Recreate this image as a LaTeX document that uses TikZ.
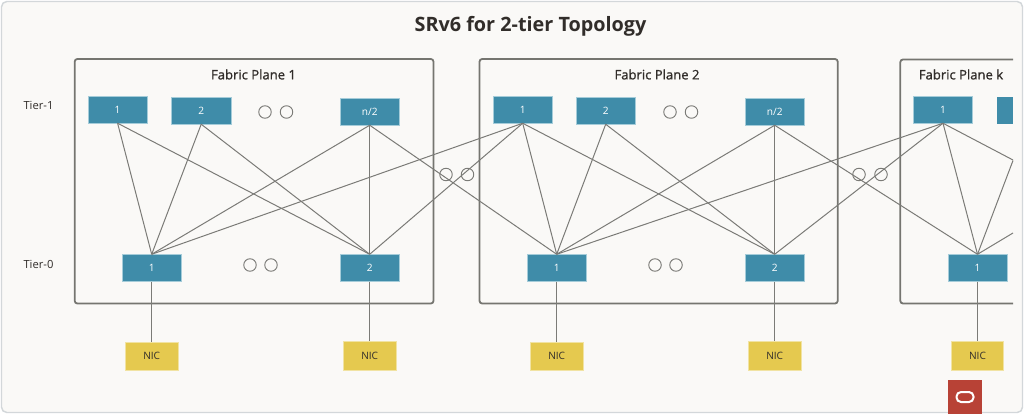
\documentclass[tikz,border=0pt]{standalone}
\usepackage{fontspec}
\setmainfont{Open Sans}
\newfontfamily\semifont[RawFeature={embolden=1.2}]{Open Sans}
\definecolor{cardbg}{HTML}{FAF9F7}
\definecolor{cardline}{HTML}{D3D7DA}
\definecolor{teal}{HTML}{3F8CA9}
\definecolor{tealedge}{HTML}{A5CCD9}
\definecolor{nicy}{HTML}{E5C94F}
\definecolor{nicedge}{HTML}{F1E3A3}
\definecolor{linkc}{HTML}{7B7B77}
\definecolor{framec}{HTML}{757570}
\definecolor{inkc}{HTML}{312D2A}
\definecolor{orared}{HTML}{B84236}
\tikzset{
  x=0.75pt,y=-0.75pt,
  sw/.style={rectangle,fill=teal,draw=tealedge,line width=0.4pt,minimum width=44.6pt,minimum height=20.2pt,inner sep=0pt,text=white,font=\fontsize{7.6}{9}\selectfont},
  nic/.style={rectangle,fill=nicy,draw=nicedge,line width=0.4pt,minimum width=39.2pt,minimum height=21.6pt,inner sep=0pt,text=inkc,font=\fontsize{7.6}{9}\selectfont},
  dot/.style={circle,draw=linkc,line width=0.7pt,minimum size=9.4pt,inner sep=0pt},
  plane/.style={draw=framec,line width=1.35pt,rounded corners=2pt},
  link/.style={draw=linkc,line width=0.75pt},
  ptitle/.style={text=inkc,font=\semifont\fontsize{9.8}{12}\selectfont,inner sep=0pt},
  tier/.style={text=inkc,font=\fontsize{8.4}{10}\selectfont,inner sep=0pt},
}
\begin{document}
\begin{tikzpicture}
\useasboundingbox (0,0) rectangle (1024,414);
\fill[white] (0,0) rectangle (1024,414);
\draw[cardline,fill=cardbg,line width=1.1pt,rounded corners=4pt] (1.5,1.5) rectangle (1022.5,412.5);
\node[text=inkc,font=\bfseries\fontsize{14.85}{18}\selectfont,inner sep=0pt] (title) at (530.5,26.2) {SRv6 for 2-tier Topology};
% frames
\draw[plane] (74.7,59) rectangle (433.5,303.5);
\draw[plane] (479.5,59) rectangle (837.7,303.5);
\draw[plane] (1013,59.5) -- (900.3,59.5) -- (900.3,303.5) -- (1013,303.5);
\node[ptitle] (p1) at (253.5,74.5) {Fabric Plane 1};
\node[ptitle] (p2) at (657,74.5) {Fabric Plane 2};
\node[ptitle] (pk) at (961,74.5) {Fabric Plane k};
\node[tier] (t1) at (38.5,105.5) {Tier-1};
\node[tier] (t0) at (38.5,264) {Tier-0};
% plane 1
\node[sw] (a1) at (117.6,109.5) {1};
\node[sw] (a2) at (201.2,110.5) {2};
\node[sw] (an) at (369.7,111.5) {n/2};
\node[sw] (b1) at (151.7,268) {1};
\node[sw] (b2) at (369.7,268) {2};
\node[nic] (n1) at (151.7,356.3) {NIC};
\node[nic] (n2) at (369.7,355.5) {NIC};
% plane 2
\node[sw] (c1) at (522.7,109.5) {1};
\node[sw] (c2) at (605.7,110.5) {2};
\node[sw] (cn) at (774.7,111.5) {n/2};
\node[sw] (d1) at (556.7,268) {1};
\node[sw] (d2) at (774.7,268) {2};
\node[nic] (n3) at (556.7,356.3) {NIC};
\node[nic] (n4) at (774.7,355.5) {NIC};
% plane k
\node[sw] (e1) at (943,109.5) {1};
\fill[teal] (997,97) rectangle (1013,124);
\node[sw] (f1) at (977.5,268) {1};
\node[nic] (n5) at (977.5,355.5) {NIC};
\coordinate (ka) at (1013,160);
\coordinate (kb) at (1013,160.5);
\coordinate (kc) at (1013,233);
% dots
\foreach \n/\x/\y in {q1/265/112,q2/286.5/112,q3/250/265,q4/271/265,q5/446/174.5,q6/467.5/174.5,q7/670/112,q8/691.5/112,q9/655/265,q10/676/265,q11/859/174.5,q12/881/174.5}
  \node[dot] (\n) at (\x,\y) {};
% links
\foreach \u in {b1,b2}
  \foreach \v in {a1,a2,an,c1}
    \draw[link] (\u.north) -- (\v.south);
\foreach \u in {d1,d2}
  \foreach \v in {c1,c2,cn,e1}
    \draw[link] (\u.north) -- (\v.south);
\draw[link] (an.south) -- (d1.north);
\draw[link] (cn.south) -- (f1.north);
\draw[link] (e1.south) -- (f1.north);
\draw[link] (e1.south) -- (ka);
\draw[link] (kb) -- (f1.north);
\draw[link] (kc) -- (f1.north);
\draw[link] (b1) -- (n1);
\draw[link] (b2) -- (n2);
\draw[link] (d1) -- (n3);
\draw[link] (d2) -- (n4);
\draw[link] (f1) -- (n5);
% logo
\fill[orared] (948,380) rectangle (982,414);
\draw[white,line width=1.5pt,rounded corners=3.4pt] (956.5,392) rectangle (973.5,402);
\end{tikzpicture}
\end{document}
